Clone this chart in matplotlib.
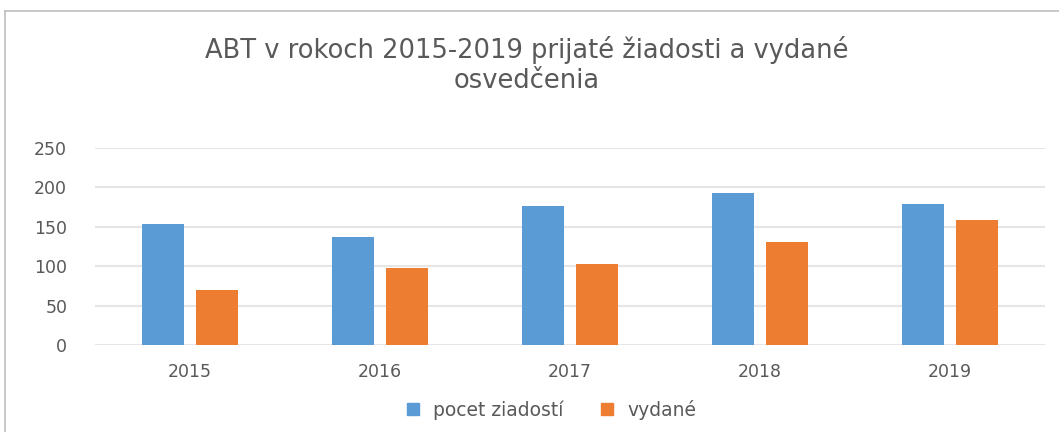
import matplotlib
matplotlib.use("Agg")
from matplotlib import pyplot as plt
from matplotlib.lines import Line2D
import numpy as np

plt.rcParams['font.family'] = ['DejaVu Sans']

years = ['2015', '2016', '2017', '2018', '2019']
pocet = [153, 137, 176, 193, 179]
vydane = [70, 98, 103, 131, 159]

blue = '#5b9bd5'
orange = '#ed7d31'
grey = '#595959'

fig = plt.figure(figsize=(10.59, 4.32), dpi=100)
ax = fig.add_axes([95/1059, 1-345/432, 950/1059, 197/432])

x = np.arange(len(years))
w = 0.22
ax.bar(x - 0.142, pocet, w, color=blue, label='pocet ziadostí', zorder=3)
ax.bar(x + 0.142, vydane, w, color=orange, label='vydané', zorder=3)

ax.set_xlim(-0.5, 4.5)
ax.set_ylim(0, 250)
ax.set_yticks(range(0, 251, 50))
ax.set_xticks(x)
ax.set_xticklabels(years)
ax.grid(axis='y', color='#e6e6e6', linewidth=1.5, zorder=0)
for s in ax.spines.values():
    s.set_visible(False)
ax.tick_params(length=0, colors=grey, labelsize=12.5)
ax.tick_params(axis='y', pad=20)
ax.tick_params(axis='x', pad=13)

fig.text(527/1059, 1-50/432, 'ABT v rokoch 2015-2019 prijaté žiadosti a vydané',
         ha='center', va='center', fontsize=18.5, color=grey)
fig.text(527/1059, 1-81/432, 'osvedčenia',
         ha='center', va='center', fontsize=18.5, color=grey)

handles = [Line2D([], [], marker='s', ls='', color=blue, markersize=9),
           Line2D([], [], marker='s', ls='', color=orange, markersize=9)]
fig.legend(handles, ['pocet ziadostí', 'vydané'], loc='center',
           bbox_to_anchor=(545/1059, 1-410/432), ncol=2, frameon=False,
           fontsize=13.5, labelcolor=grey, handletextpad=0.1, columnspacing=1.3)

# chart border (top and left edges visible)
fig.add_artist(Line2D([5/1059, 1], [1-11/432, 1-11/432], color='#bfbfbf', lw=1.2))
fig.add_artist(Line2D([5/1059, 5/1059], [1-11/432, 0], color='#bfbfbf', lw=1.2))

plt.savefig('out.png', dpi=100)
